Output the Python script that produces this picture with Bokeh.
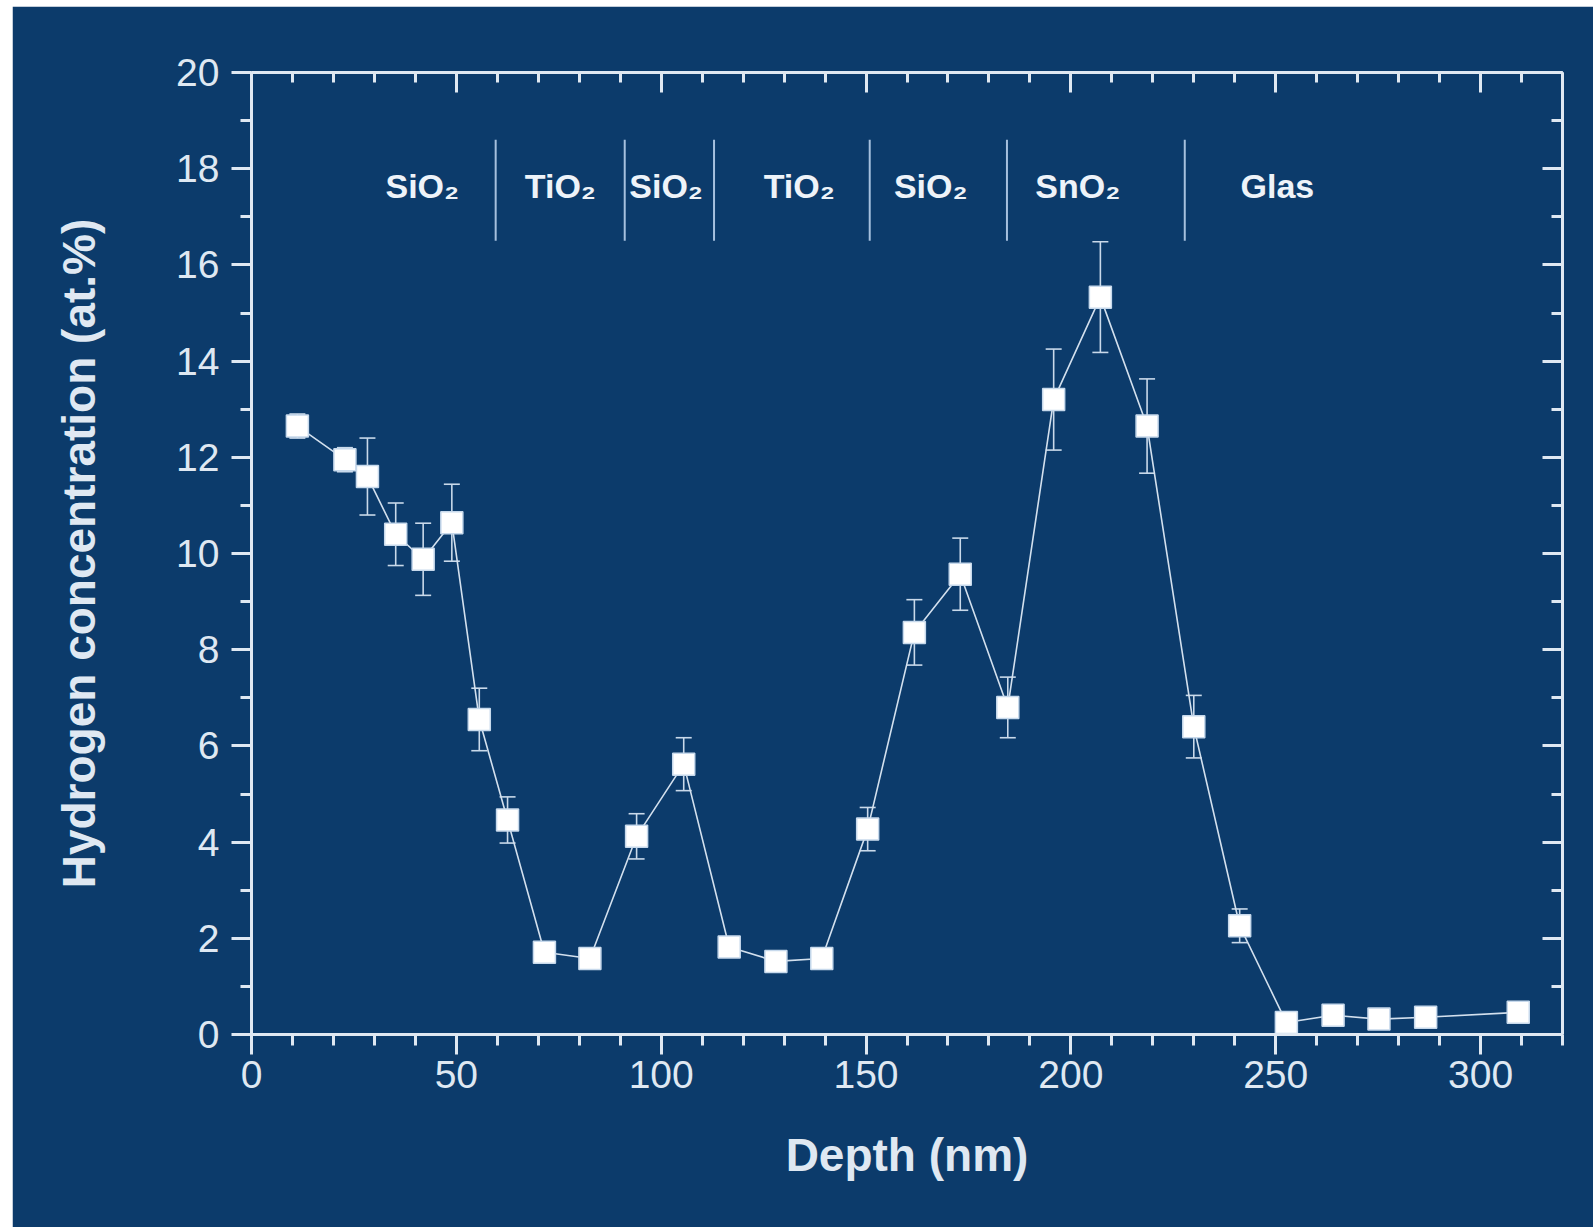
from bokeh.plotting import figure
from bokeh.models import (ColumnDataSource, Whisker, TeeHead, LinearAxis,
                          SingleIntervalTicker, Range1d, CustomJSTickFormatter)
from bokeh.embed import file_html
from bokeh.resources import INLINE
from bokeh.core.properties import value

# ---- data ----
depth = [11.2, 22.8, 28.3, 35.2, 41.9, 48.9, 55.6, 62.5, 71.5, 82.6, 94.0, 105.5,
         116.6, 128.0, 139.2, 150.4, 161.8, 173.0, 184.6, 195.8, 207.2, 218.6,
         230.0, 241.2, 252.6, 264.0, 275.2, 286.6, 309.2]
h_conc = [12.65, 11.95, 11.6, 10.4, 9.88, 10.64, 6.55, 4.46, 1.71, 1.58, 4.12, 5.62,
          1.82, 1.52, 1.58, 4.27, 8.36, 9.57, 6.80, 13.2, 15.33, 12.65,
          6.40, 2.26, 0.25, 0.40, 0.32, 0.36, 0.46]
h_err = [0.25, 0.25, 0.8, 0.65, 0.75, 0.8, 0.65, 0.48, 0.2, 0.15, 0.47, 0.55,
         0.2, 0.2, 0.15, 0.45, 0.68, 0.75, 0.63, 1.05, 1.15, 0.98,
         0.65, 0.35, 0.05, 0.05, 0.05, 0.05, 0.05]

layer_bounds = [59.6, 91.1, 112.9, 150.9, 184.4, 227.8]
layer_bound_low = 16.5
layer_bound_high = 18.6
layer_names = ["SiO\u2082", "TiO\u2082", "SiO\u2082", "TiO\u2082", "SiO\u2082", "SnO\u2082", "Glas"]
layer_name_x = [41.7, 75.4, 101.2, 133.7, 165.8, 201.7, 250.4]
layer_name_y = 17.63

x_ticks_interval = 50
y_ticks_interval = 2

BG = "#0c3b6b"
FG = "#dfe8f2"
FONT = "Liberation Sans"

src = ColumnDataSource(dict(
    x=depth, y=h_conc,
    upper=[v + e for v, e in zip(h_conc, h_err)],
    lower=[v - e for v, e in zip(h_conc, h_err)],
))

p = figure(frame_width=1311, frame_height=962,
           x_range=Range1d(0, 320), y_range=Range1d(0, 20),
           output_backend="svg", toolbar_location=None,
           background_fill_color=BG, border_fill_color=BG,
           min_border_left=239, min_border_right=31,
           min_border_top=66, min_border_bottom=193,
           outline_line_color=None)
p.margin = (6, 0, 0, 12)
p.xgrid.visible = False
p.ygrid.visible = False

xt = SingleIntervalTicker(interval=x_ticks_interval, num_minor_ticks=5)
yt = SingleIntervalTicker(interval=y_ticks_interval, num_minor_ticks=2)

blank = CustomJSTickFormatter(code="return ''")

def style_axis(ax):
    ax.axis_line_color = FG
    ax.axis_line_width = 3
    ax.major_tick_line_color = FG
    ax.major_tick_line_width = 3
    ax.minor_tick_line_color = FG
    ax.minor_tick_line_width = 3
    ax.major_label_text_color = FG
    ax.major_label_text_font = FONT
    ax.major_label_text_font_size = "39px"
    ax.axis_label_text_color = FG
    ax.axis_label_text_font = FONT
    ax.axis_label_text_font_style = "bold"

xa = p.xaxis[0]
xa.ticker = xt
style_axis(xa)
xa.major_tick_out = 20
xa.major_tick_in = 0
xa.minor_tick_out = 11
xa.minor_tick_in = 0
xa.major_label_standoff = 6
xa.axis_label = "Depth (nm)"
xa.axis_label_text_font_size = "46px"
xa.axis_label_standoff = 38

ya = p.yaxis[0]
ya.ticker = yt
style_axis(ya)
ya.major_tick_out = 20
ya.major_tick_in = 0
ya.minor_tick_out = 11
ya.minor_tick_in = 0
ya.major_label_standoff = 12
ya.axis_label = "Hydrogen concentration (at.%)"
ya.axis_label_text_font_size = "46px"
ya.axis_label_standoff = 68

top = LinearAxis(ticker=SingleIntervalTicker(interval=x_ticks_interval, num_minor_ticks=5),
                 formatter=blank)
style_axis(top)
top.major_tick_in = 20
top.major_tick_out = 0
top.minor_tick_in = 10
top.minor_tick_out = 0
top.major_label_standoff = 0
p.add_layout(top, "above")

right = LinearAxis(ticker=SingleIntervalTicker(interval=y_ticks_interval, num_minor_ticks=2),
                   formatter=blank)
style_axis(right)
right.major_tick_in = 20
right.major_tick_out = 0
right.minor_tick_in = 11
right.minor_tick_out = 0
right.major_label_standoff = 0
p.add_layout(right, "right")

# connecting line
p.line("x", "y", source=src, line_color="#d3e0ee", line_width=1.6)

# error bars
wh = Whisker(source=src, base="x", upper="upper", lower="lower",
             line_color="#c9d9ea", line_width=1.6,
             upper_head=TeeHead(size=16, line_color="#c9d9ea", line_width=1.6),
             lower_head=TeeHead(size=16, line_color="#c9d9ea", line_width=1.6))
p.add_layout(wh)

# markers
p.scatter("x", "y", source=src, marker="square", size=22,
          fill_color="#ffffff", line_color="#c7d9ec", line_width=1.5)

# layer separators
n = len(layer_bounds)
p.segment(x0=layer_bounds, y0=[layer_bound_low] * n,
          x1=layer_bounds, y1=[layer_bound_high] * n,
          line_color="#a6c0de", line_width=2)

# layer labels
p.text(x=layer_name_x, y=[layer_name_y] * len(layer_name_x), text=layer_names,
       text_font=value(FONT), text_font_style="bold",
       text_font_size="34px", text_color="#eef3f9",
       text_align="center", text_baseline="middle")

open("out.html", "w").write(file_html(p, INLINE))
